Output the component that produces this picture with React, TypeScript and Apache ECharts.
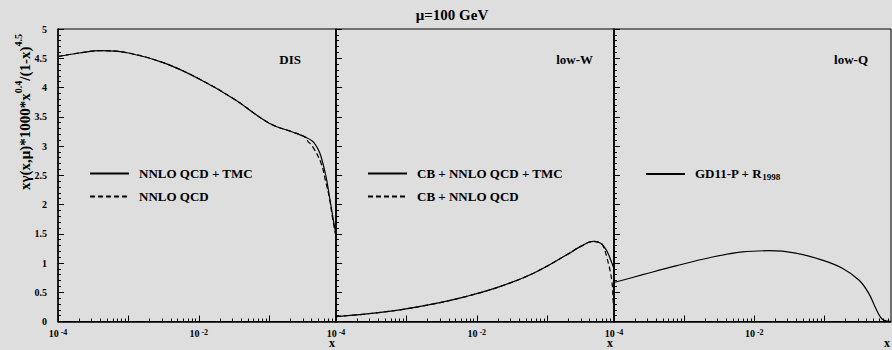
import React, { useEffect, useRef } from 'react';
import * as echarts from 'echarts';

// ---- axis ranges / ticks ----
const X_MIN = 1e-4;
const X_MAX = 0.89;
const Y_MIN = 0;
const Y_MAX = 5;
const Y_STEP = 0.5;
const X_MAJOR_TICKS = [1e-4, 1e-3, 1e-2, 1e-1];
const X_LABEL_TICKS = [1e-4, 1e-2];
const X_MINOR_FACTORS = [2, 3, 4, 5, 6, 7, 8, 9];

// ---- panel 1: DIS ----
const disTmcX = [1e-4, 2e-4, 4.1e-4, 1e-3, 3.2e-3, 1e-2, 3.2e-2, 0.1, 0.214, 0.316, 0.414, 0.488, 0.545, 0.641, 0.731, 0.815, 0.87];
const disTmcY = [4.53, 4.59, 4.63, 4.59, 4.42, 4.15, 3.80, 3.39, 3.24, 3.16, 3.08, 2.96, 2.82, 2.48, 2.08, 1.74, 1.55];
const disQcdX = [1e-4, 2e-4, 4.1e-4, 1e-3, 3.2e-3, 1e-2, 3.2e-2, 0.1, 0.214, 0.316, 0.355, 0.414, 0.545, 0.641, 0.71, 0.79, 0.87];
const disQcdY = [4.53, 4.59, 4.63, 4.59, 4.42, 4.15, 3.80, 3.39, 3.24, 3.16, 3.08, 2.99, 2.71, 2.37, 2.14, 1.79, 1.5];

// ---- panel 2: low-W ----
const lowWTmcX = [1e-4, 2.73e-4, 8.1e-4, 2.43e-3, 7.2e-3, 2.17e-2, 6.5e-2, 0.19, 0.295, 0.457, 0.57, 0.676, 0.76, 0.83, 0.89];
const lowWTmcY = [0.085, 0.13, 0.20, 0.30, 0.43, 0.60, 0.83, 1.14, 1.28, 1.37, 1.34, 1.24, 1.12, 1.0, 0.9];
const lowWQcdX = [1e-4, 2.73e-4, 8.1e-4, 2.43e-3, 7.2e-3, 2.17e-2, 6.5e-2, 0.19, 0.295, 0.457, 0.57, 0.617, 0.70, 0.826, 0.87, 0.89];
const lowWQcdY = [0.085, 0.13, 0.20, 0.30, 0.43, 0.60, 0.83, 1.14, 1.28, 1.37, 1.34, 1.30, 1.11, 0.71, 0.32, 0.2];

// ---- panel 3: low-Q ----
const lowQX = [1e-4, 2.57e-4, 7.6e-4, 2.29e-3, 6.8e-3, 1.62e-2, 3.9e-2, 9.3e-2, 0.18, 0.31, 0.427, 0.537, 0.63, 0.71, 0.89];
const lowQY = [0.667, 0.80, 0.95, 1.09, 1.19, 1.21, 1.17, 1.05, 0.91, 0.71, 0.485, 0.23, 0.075, 0.02, 0.0];

// ---- texts ----
const TITLE = 'μ=100 GeV';
const PANEL_LABELS = ['DIS', 'low-W', 'low-Q'];
const LEGENDS = [
  ['NNLO QCD + TMC', 'NNLO QCD'],
  ['CB + NNLO QCD + TMC', 'CB + NNLO QCD'],
  ['GD11-P + R1998'],
];

const FONT = "'Liberation Serif', 'Times New Roman', serif";
const BG = '#dedede';

const PANEL_LEFT = [58, 336, 614];
const PANEL_W = [278, 278, 277];
const TOP = 29;
const HEIGHT = 292.5;
const LABEL_RIGHT_OFF = [35, 21, 23];
const LEGEND_LEFT = [89, 367, 645];

const L = Math.log10;

function pts(xs: number[], ys: number[]) {
  return xs.map((x, i) => [L(x), ys[i]]);
}

export default function App() {
  const ref = useRef<HTMLDivElement>(null);
  useEffect(() => {
    if (!ref.current) return;
    const chart = echarts.init(ref.current, undefined, { renderer: 'svg' });

    const minorTicks: number[] = [];
    X_MAJOR_TICKS.forEach((d) => X_MINOR_FACTORS.forEach((f) => {
      const v = d * f;
      if (v < X_MAX) minorTicks.push(L(v));
    }));

    const grids = PANEL_LEFT.map((left, i) => ({
      left, top: TOP, width: PANEL_W[i], height: HEIGHT,
      show: true, backgroundColor: 'transparent', borderColor: '#000', borderWidth: 1,
      containLabel: false, outerBoundsMode: 'none',
    }));

    const xAxes: any[] = [];
    PANEL_LEFT.forEach((_, i) => {
      xAxes.push({
        type: 'value', gridIndex: i, position: 'bottom', min: L(X_MIN), max: L(X_MAX),
        axisLine: { show: true, onZero: false, lineStyle: { color: '#000', width: 1.5 } },
        axisTick: { show: true, inside: true, length: 6, customValues: X_MAJOR_TICKS.map(L), lineStyle: { color: '#000', width: 1 } },
        axisLabel: {
          show: true, customValues: X_LABEL_TICKS.map(L), margin: 7,
          formatter: (v: number) => `{b|10}{s|${Math.round(v)}}`,
          rich: {
            b: { fontFamily: FONT, fontWeight: 'bold', fontSize: 10, color: '#000', lineHeight: 10, verticalAlign: 'bottom' },
            s: { fontFamily: FONT, fontWeight: 'bold', fontSize: 8, color: '#000', lineHeight: 6, verticalAlign: 'top', padding: [0, 0, 0, 2] },
          },
        },
        splitLine: { show: false },
      });
      xAxes.push({
        type: 'value', gridIndex: i, position: 'bottom', min: L(X_MIN), max: L(X_MAX),
        axisLine: { show: false },
        axisTick: { show: true, inside: true, length: 3, customValues: minorTicks, lineStyle: { color: '#000', width: 1 } },
        axisLabel: { show: false },
        splitLine: { show: false },
      });
    });

    const yAxes = PANEL_LEFT.map((_, i) => ({
      type: 'value', gridIndex: i, position: 'left', min: Y_MIN, max: Y_MAX, interval: Y_STEP,
      axisLine: { show: true, onZero: false, lineStyle: { color: '#000', width: 1.5 } },
      axisTick: { show: true, inside: true, length: 6, lineStyle: { color: '#000', width: 1 } },
      minorTick: { show: true, splitNumber: 5, length: 3, lineStyle: { color: '#000', width: 1 } },
      axisLabel: { show: i === 0, margin: 11, fontFamily: FONT, fontWeight: 'bold', fontSize: 10, color: '#000' },
      splitLine: { show: false },
      minorSplitLine: { show: false },
    }));

    const mk = (name: string, panel: number, data: number[][], dashed: boolean) => ({
      type: 'line', name, xAxisIndex: panel * 2, yAxisIndex: panel, data,
      symbol: 'none', showSymbol: false, smooth: 0.4,
      lineStyle: { color: '#000', width: 1.2, type: dashed ? [5, 3] : 'solid' },
      itemStyle: { color: '#000' }, z: 3,
    });

    const series = [
      mk(LEGENDS[0][0], 0, pts(disTmcX, disTmcY), false),
      mk(LEGENDS[0][1], 0, pts(disQcdX, disQcdY), true),
      mk(LEGENDS[1][0], 1, pts(lowWTmcX, lowWTmcY), false),
      mk(LEGENDS[1][1], 1, pts(lowWQcdX, lowWQcdY), true),
      mk(LEGENDS[2][0], 2, pts(lowQX, lowQY), false),
    ];

    const legendText = { fontFamily: FONT, fontWeight: 'bold', fontSize: 13, color: '#000', padding: [0, 0, 0, 5] };
    const legends = LEGENDS.map((names, i) => ({
      data: names, left: LEGEND_LEFT[i], top: 167, orient: 'vertical',
      itemWidth: 39, itemHeight: 16, itemGap: 10, selectedMode: false,
      padding: 0,
      itemStyle: { opacity: 0, borderWidth: 0 },
      textStyle: i === 2 ? {
        ...legendText,
        rich: {
          n: { fontFamily: FONT, fontWeight: 'bold', fontSize: 13, color: '#000', lineHeight: 14, verticalAlign: 'top' },
          sub: { fontFamily: FONT, fontWeight: 'bold', fontSize: 9, color: '#000', lineHeight: 9, verticalAlign: 'bottom' },
        },
      } : legendText,
      formatter: i === 2 ? (n: string) => `{n|GD11-P + R}{sub|1998}` : undefined,
    }));

    const graphics: any[] = [
      {
        type: 'text', x: 452, y: 15,
        style: { text: TITLE, fontFamily: FONT, fontWeight: 'bold', fontSize: 15, fill: '#000', align: 'center', verticalAlign: 'middle' },
      },
      {
        type: 'text', x: 23, y: 112, rotation: Math.PI / 2,
        style: {
          text: '{m|xγ(x,μ)*1000*x}{s|0.4}{m|/(1-x)}{s|4.5}',
          align: 'center', verticalAlign: 'middle',
          rich: {
            m: { fontFamily: FONT, fontWeight: 'bold', fontSize: 15, fill: '#000', lineHeight: 19, verticalAlign: 'bottom' },
            s: { fontFamily: FONT, fontWeight: 'bold', fontSize: 10, fill: '#000', lineHeight: 10, verticalAlign: 'top' },
          },
        },
      },
    ];
    PANEL_LEFT.forEach((left, i) => {
      const right = left + PANEL_W[i];
      graphics.push({
        type: 'text', x: right - LABEL_RIGHT_OFF[i], y: 59,
        style: { text: PANEL_LABELS[i], fontFamily: FONT, fontWeight: 'bold', fontSize: 13, fill: '#000', align: 'right', verticalAlign: 'middle' },
      });
      graphics.push({
        type: 'text', x: Math.min(right, 891) - 1, y: 343,
        style: { text: 'x', fontFamily: FONT, fontWeight: 'bold', fontSize: 12, fill: '#000', align: 'right', verticalAlign: 'middle' },
      });
    });

    chart.setOption({
      animation: false,
      backgroundColor: BG,
      grid: grids,
      xAxis: xAxes,
      yAxis: yAxes,
      legend: legends,
      series,
      graphic: graphics,
    } as any);

    return () => chart.dispose();
  }, []);

  return <div ref={ref} style={{ position: 'fixed', left: 0, top: 0, width: 892, height: 350 }} />;
}
